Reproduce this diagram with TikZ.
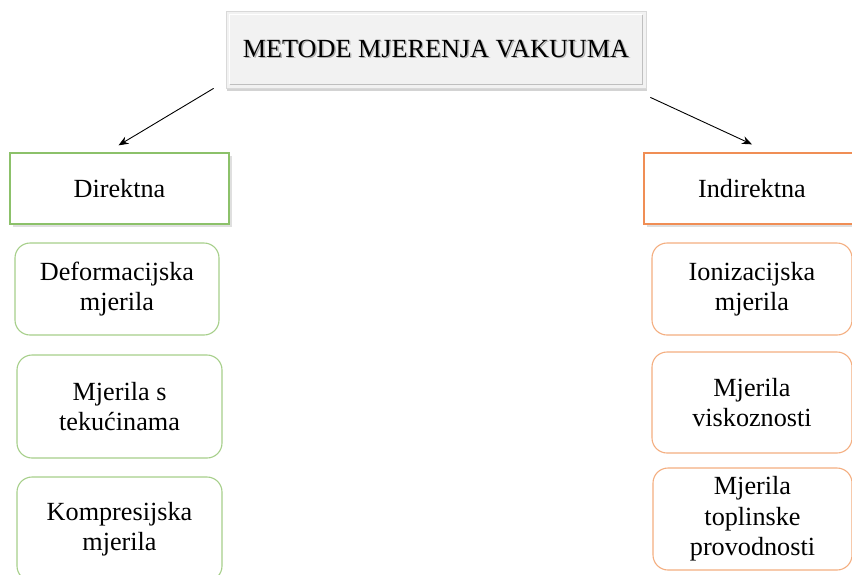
\documentclass[tikz,border=0pt]{standalone}
\usepackage{fontspec}
\setmainfont{Liberation Serif}
\usetikzlibrary{shadows,arrows.meta}
\definecolor{grn}{HTML}{8CC16A}
\definecolor{grnl}{HTML}{A6CF8A}
\definecolor{org}{HTML}{F08E55}
\definecolor{orgl}{HTML}{F4AE80}
\newcommand\tshadow[1]{\makebox[0pt][l]{\hspace{1.4pt}\raisebox{-1.4pt}{\textcolor{black!30}{#1}}}#1}
\tikzset{
 txt/.style={font=\fontsize{26.2}{30.5}\selectfont, align=center, text=black},
 header/.style={txt, draw=#1, line width=1.3pt, fill=white, minimum height=71pt,
   drop shadow={shadow xshift=3pt, shadow yshift=-3pt, opacity=0.25}},
 item/.style={txt, draw=#1, line width=1.1pt, rounded corners=15pt, fill=white, inner sep=1pt},
 conn/.style={-{Stealth[length=10pt,width=8pt]}, line width=0.9pt},
 titlebox/.style={txt, fill=black!5, draw=black!15, line width=0.8pt, minimum width=420pt, minimum height=77pt,
   drop shadow={shadow xshift=1pt, shadow yshift=-3pt, opacity=0.35}},
}
\begin{document}
\begin{tikzpicture}[x=1pt,y=-1pt]
\useasboundingbox (0,0) rectangle (852,574);
\clip (0,0) rectangle (852,574);
% title
\node[titlebox] (title) at (436,49.5) {\tshadow{METODE MJERENJA VAKUUMA}};
\draw[black!25, line width=0.8pt] ([shift={(4pt,4pt)}]title.south west) -| ([shift={(-4pt,-4pt)}]title.north east);
\draw[white, line width=1.2pt] ([shift={(4pt,4pt)}]title.south west) |- ([shift={(-4pt,-4pt)}]title.north east);
% headers
\node[header=grn, minimum width=219pt] (dir) at (119.5,188.5) {Direktna};
\node[header=org, minimum width=216pt] (ind) at (752,188.5) {Indirektna};
% left items
\node[item=grnl, minimum width=204pt, minimum height=92pt] (d1) at (117,289) {Deformacijska\\mjerila};
\node[item=grnl, minimum width=205pt, minimum height=103pt] (d2) at (119.5,406.5) {Mjerila s\\tekućinama};
\node[item=grnl, minimum width=205pt, minimum height=104pt] (d3) at (119.5,529) {Kompresijska\\mjerila};
% right items
\node[item=orgl, minimum width=200pt, minimum height=92pt] (i1) at (752,289) {Ionizacijska\\mjerila};
\node[item=orgl, minimum width=200pt, minimum height=101pt] (i2) at (752,402.5) {Mjerila\\viskoznosti};
\node[item=orgl, minimum width=199pt, minimum height=102pt] (i3) at (752.5,519) {Mjerila\\toplinske\\provodnosti};
% connectors
\coordinate (ls) at ([shift={(-12pt,0pt)}]title.south west);
\coordinate (le) at ([shift={(-1pt,7pt)}]dir.north);
\coordinate (rs) at ([shift={(4pt,-9pt)}]title.south east);
\coordinate (re) at ([shift={(0pt,8pt)}]ind.north);
\draw[conn] (ls) -- (le);
\draw[conn] (rs) -- (re);
\end{tikzpicture}
\end{document}
